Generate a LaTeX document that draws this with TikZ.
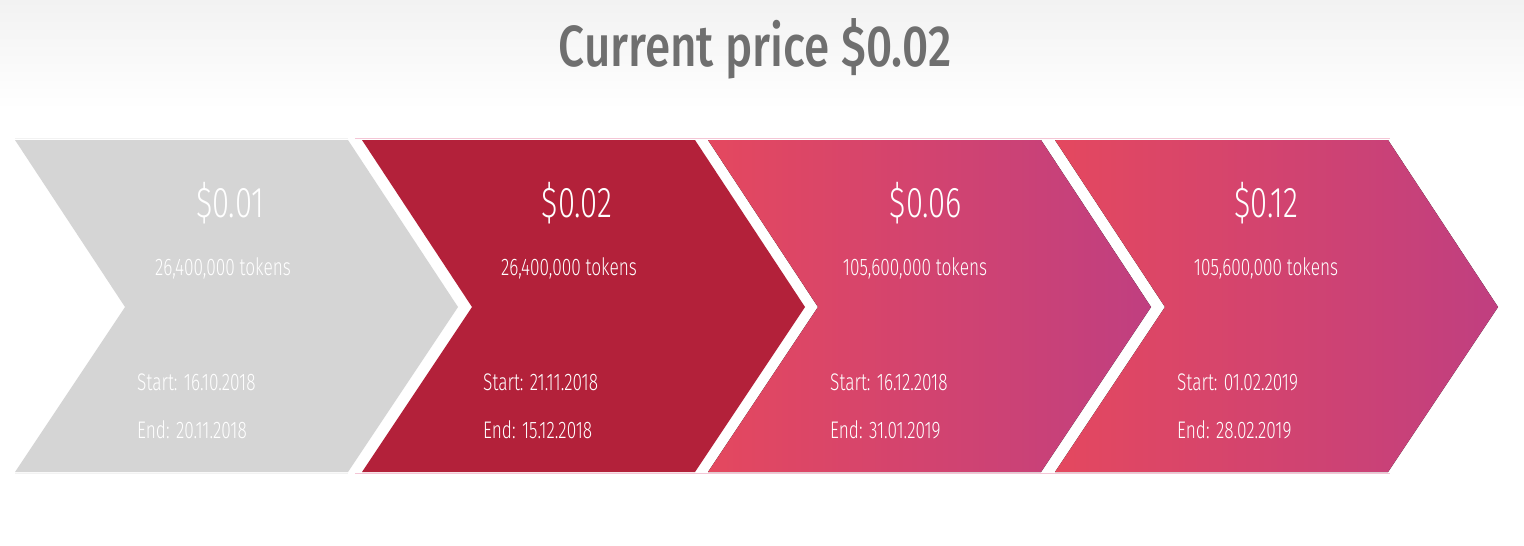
\documentclass[tikz,border=0pt]{standalone}
\usepackage{fontspec}
\setmainfont{Fira Sans}
\newfontfamily\lightf{Fira Sans Light}[FakeStretch=0.72]
\newfontfamily\titlef{Fira Sans Medium}[FakeStretch=0.79]
\definecolor{greyc}{HTML}{D5D5D5}
\definecolor{redc}{HTML}{B3213A}
\definecolor{gradl}{HTML}{E4485F}
\definecolor{gradr}{HTML}{C03F80}
\definecolor{titlec}{HTML}{6F6F6F}
\definecolor{bgtop}{HTML}{F2F2F2}
\definecolor{edgepink}{HTML}{F4C6D6}
\tikzset{
  pricetxt/.style={text=white, font=\lightf\fontsize{43}{43}\selectfont, anchor=base, inner sep=0pt},
  tokentxt/.style={text=white, font=\lightf\fontsize{24}{24}\selectfont, anchor=base, inner sep=0pt},
  datetxt/.style={text=white, font=\lightf\fontsize{24}{24}\selectfont, anchor=base west, inner sep=0pt},
  titletxt/.style={text=titlec, font=\titlef\fontsize{58}{58}\selectfont, anchor=base, inner sep=0pt},
}
\newcommand{\chevpath}[1]{(#1,140) -- ({#1+333},140) -- ({#1+443},307) -- ({#1+333},472) -- (#1,472) -- ({#1+110},307) -- cycle}
\begin{document}
\begin{tikzpicture}[x=1pt,y=-1pt]
\useasboundingbox (0,0) rectangle (1524,546);
\fill[white] (0,0) rectangle (1524,546);
\shade[top color=bgtop, bottom color=white] (0,0) rectangle (1524,110);
\node[titletxt] (title) at (755,66) {Current price \$0.02};
% edge lines
\draw[edgepink, line width=1pt] (355,138.5) -- (1390,138.5);
\draw[edgepink, line width=1pt] (355,473.5) -- (1390,473.5);
\draw[white!95!black, line width=1pt] (15,138.5) -- (348,138.5);
\draw[white!95!black, line width=1pt] (15,473.5) -- (348,473.5);
% chevrons
\fill[greyc] \chevpath{15};
\fill[redc] \chevpath{362};
\fill[left color=gradl, right color=gradr] \chevpath{708};
\fill[left color=gradl, right color=gradr] \chevpath{1055};
% stage 1
\node[pricetxt] (p1) at (230,217) {\$0.01};
\node[tokentxt] (t1) at (223,275) {26,400,000 tokens};
\node[datetxt] (s1) at (137,390) {Start: 16.10.2018};
\node[datetxt] (e1) at (137,438) {End: 20.11.2018};
% stage 2
\node[pricetxt] (p2) at (577,217) {\$0.02};
\node[tokentxt] (t2) at (569,275) {26,400,000 tokens};
\node[datetxt] (s2) at (483,390) {Start: 21.11.2018};
\node[datetxt] (e2) at (483,438) {End: 15.12.2018};
% stage 3
\node[pricetxt] (p3) at (926,217) {\$0.06};
\node[tokentxt] (t3) at (915,275) {105,600,000 tokens};
\node[datetxt] (s3) at (830,390) {Start: 16.12.2018};
\node[datetxt] (e3) at (830,438) {End: 31.01.2019};
% stage 4
\node[pricetxt] (p4) at (1266,217) {\$0.12};
\node[tokentxt] (t4) at (1266,275) {105,600,000 tokens};
\node[datetxt] (s4) at (1177,390) {Start: 01.02.2019};
\node[datetxt] (e4) at (1177,438) {End: 28.02.2019};
\end{tikzpicture}
\end{document}
